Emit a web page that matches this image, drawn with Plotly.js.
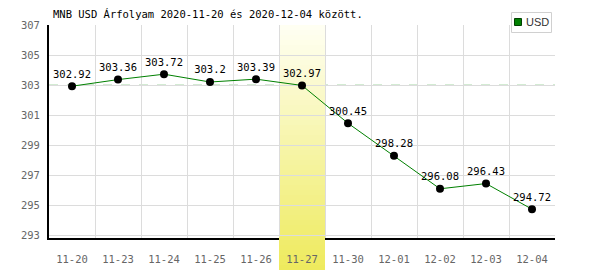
<!DOCTYPE html>
<html>
<head>
<meta charset="utf-8">
<script src="https://cdn.plot.ly/plotly-3.0.1.min.js"></script>
<style>html,body{margin:0;padding:0;background:#fff;}#chart{width:600px;height:270px;}</style>
</head>
<body>
<div id="chart"></div>
<script>
const categories = ['11-20','11-23','11-24','11-25','11-26','11-27','11-30','12-01','12-02','12-03','12-04'];
const usdValues = [302.92, 303.36, 303.72, 303.2, 303.39, 302.97, 300.45, 298.28, 296.08, 296.43, 294.72];
const seriesName = 'USD';
const highlightCategory = '11-27';
const referenceLevel = 303;
const titleText = 'MNB USD Árfolyam 2020-11-20 és 2020-12-04 között.';

const MONO = 'DejaVu Sans Mono, monospace';
const L = 49, R = 45, T = 25, B = 32, W = 600, H = 270;
const plotH = H - T - B;
const py = (pix) => (H - B - pix) / plotH; // pixel y -> paper y

const hiIdx = categories.indexOf(highlightCategory);
function mix(a, b, t) {
  const ca = [parseInt(a.slice(1,3),16), parseInt(a.slice(3,5),16), parseInt(a.slice(5,7),16)];
  const cb = [parseInt(b.slice(1,3),16), parseInt(b.slice(3,5),16), parseInt(b.slice(5,7),16)];
  return 'rgb(' + ca.map((v,i)=>Math.round(v+(cb[i]-v)*t)).join(',') + ')';
}
const shapes = [];
// dashed reference line (replaces gridline)
shapes.push({type:'line', xref:'paper', yref:'y', x0:0, x1:1, y0:referenceLevel, y1:referenceLevel, layer:'between', line:{color:'#ffffff', width:1}});
shapes.push({type:'line', xref:'paper', yref:'y', x0:0, x1:1, y0:referenceLevel, y1:referenceLevel, layer:'between', line:{color:'#a6d6a6', width:1, dash:'dash'}});
// gradient band
const bandTop = 25, bandBot = 270, N = 49;
const step = (bandBot - bandTop) / N;
for (let i = 0; i < N; i++) {
  const y1p = bandTop + i*step, y2p = bandTop + (i+1)*step + 0.6;
  const c = mix('#fffff4', '#eeea5c', (i + 0.5) / N);
  const mid = (y1p + y2p) / 2;
  let layer = 'between';
  if (mid > 238 - 0.1) layer = 'below';
  shapes.push({type:'rect', xref:'x', yref:'paper', x0:hiIdx-0.5, x1:hiIdx+0.5, y0:py(y2p), y1:py(y1p), layer:layer, line:{width:0}, fillcolor:c});
}
// cover axis line in the band
shapes.push({type:'rect', xref:'x', yref:'paper', x0:hiIdx-0.5, x1:hiIdx+0.5, y0:py(240), y1:py(236.5), layer:'above', line:{width:0}, fillcolor:mix('#fffff4', '#eeea5c', (238-25)/245)});
// legend box
const lx = (pix) => (pix - L) / (W - L - R);
shapes.push({type:'rect', xref:'paper', yref:'paper', x0:lx(511.5), x1:lx(551.5), y0:py(32.5), y1:py(12.5), layer:'above', line:{color:'#d0d0d0', width:1}, fillcolor:'#ffffff'});
shapes.push({type:'rect', xref:'paper', yref:'paper', x0:lx(514.5), x1:lx(521.5), y0:py(25.5), y1:py(18.5), layer:'above', line:{color:'#004000', width:1}, fillcolor:'#008000'});

const trace = {
  x: categories, y: usdValues, type:'scatter', mode:'lines+markers+text',
  name: seriesName, showlegend:false,
  line:{color:'#008000', width:1},
  marker:{color:'#000', size:8},
  text: usdValues.map(v => String(v)),
  textposition:'top center',
  textfont:{family:MONO, size:10.5, color:'#000'},
  cliponaxis:false, hoverinfo:'skip'
};

const layout = {
  width:W, height:H,
  margin:{l:L, r:R, t:T, b:B, pad:0},
  paper_bgcolor:'#fff', plot_bgcolor:'#fff',
  showlegend:false,
  title:{text:titleText, x:53/W, xanchor:'left', xref:'container', y:1-14/H, yanchor:'middle', yref:'container', font:{family:MONO, size:10.5, color:'#000'}},
  xaxis:{type:'category', range:[-0.5, categories.length-0.5], tickson:'boundaries', showgrid:true, gridcolor:'#dcdcdc', gridwidth:1,
    showline:true, linecolor:'#000', linewidth:2, ticks:'', zeroline:false,
    tickfont:{family:MONO, size:10.5, color:'#666'}, ticklabelstandoff:10, fixedrange:true},
  yaxis:{range:[292.8, 307], tick0:293, dtick:2, showgrid:true, gridcolor:'#dcdcdc', gridwidth:1,
    showline:true, linecolor:'#000', linewidth:2, ticks:'', zeroline:false,
    tickfont:{family:MONO, size:10.5, color:'#666'}, ticklabelstandoff:5, fixedrange:true},
  shapes:shapes,
  annotations:[{xref:'paper', yref:'paper', x:lx(524), y:py(22.5), xanchor:'left', yanchor:'middle', text:seriesName, showarrow:false,
    font:{family:'Liberation Sans, Arial, sans-serif', size:11, color:'#333'}}]
};
Plotly.newPlot('chart', [trace], layout, {staticPlot:true, displayModeBar:false});
</script>
</body>
</html>
